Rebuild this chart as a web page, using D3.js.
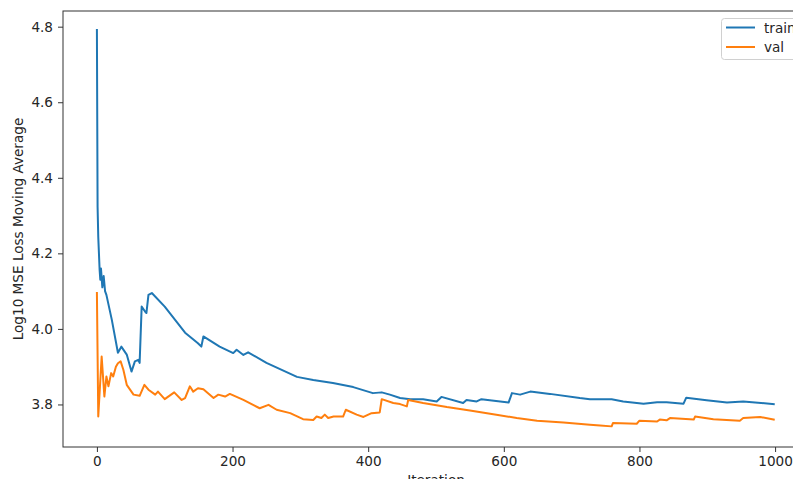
<!DOCTYPE html>
<html>
<head>
<meta charset="utf-8">
<script src="https://cdn.jsdelivr.net/npm/d3@7"></script>
<style>
  html, body { margin: 0; padding: 0; background: #fff; }
  svg { display: block; font-family: "DejaVu Sans", sans-serif; }
</style>
</head>
<body>
<svg id="chart" width="793" height="479"></svg>
<script>
const trainIter = [0,1,2,4,5,6,8,10,12,14,22,31,36,44,51,56,61,63,66,71,73,76,81,100,130,149,154,157,181,201,206,216,223,250,295,319,348,378,407,420,432,447,462,481,501,508,540,545,560,567,607,612,624,639,668,712,727,759,776,806,826,840,865,869,899,929,953,998];
const trainLoss = [4.791,4.323,4.243,4.156,4.13,4.16,4.11,4.14,4.10,4.09,4.024,3.937,3.953,3.932,3.887,3.914,3.918,3.910,4.059,4.046,4.042,4.090,4.095,4.059,3.990,3.962,3.953,3.980,3.953,3.936,3.945,3.931,3.938,3.910,3.873,3.865,3.857,3.846,3.830,3.832,3.826,3.817,3.814,3.814,3.808,3.820,3.804,3.812,3.808,3.814,3.805,3.830,3.826,3.834,3.828,3.817,3.814,3.814,3.808,3.802,3.806,3.806,3.802,3.818,3.811,3.805,3.808,3.801];
const valIter = [0,2,7,11,14,17,21,24,28,31,35,39,44,54,63,70,76,86,90,100,114,125,130,137,142,149,157,172,179,189,196,216,240,253,265,285,304,319,324,331,336,341,349,363,367,383,393,405,417,420,437,447,457,459,481,516,550,589,619,649,688,727,742,759,761,796,800,826,830,840,845,880,882,909,948,953,978,998];
const valLoss = [4.095,3.768,3.927,3.821,3.874,3.848,3.883,3.874,3.90,3.909,3.914,3.892,3.852,3.826,3.823,3.852,3.839,3.826,3.834,3.814,3.832,3.812,3.817,3.848,3.834,3.843,3.840,3.817,3.826,3.821,3.828,3.812,3.790,3.799,3.786,3.777,3.761,3.759,3.768,3.764,3.773,3.764,3.768,3.768,3.786,3.773,3.767,3.777,3.779,3.814,3.804,3.801,3.795,3.812,3.804,3.793,3.784,3.773,3.764,3.757,3.752,3.746,3.744,3.742,3.751,3.749,3.757,3.755,3.760,3.758,3.764,3.760,3.768,3.761,3.757,3.764,3.767,3.760];
const xTicks = [0,200,400,600,800,1000];
const yTicks = [3.8,4.0,4.2,4.4,4.6,4.8];
const seriesNames = ["train","val"];
const seriesColors = ["#1f77b4","#ff7f0e"];

const svg = d3.select("#chart");
const L = 63, R = 809, T = 11, B = 447;
const x = d3.scaleLinear().domain([-50, 1050]).range([L, R]);
const y = d3.scaleLinear().domain([3.6874, 4.8415]).range([B, T]);

const fontSize = "13.6px";
const textColor = "#262626";

// lines
const line = d3.line().x(d => x(d[0])).y(d => y(d[1]));
const series = [
  d3.zip(trainIter, trainLoss),
  d3.zip(valIter, valLoss)
];
series.forEach((s, i) => {
  svg.append("path").datum(s)
    .attr("d", line)
    .attr("fill", "none")
    .attr("stroke", seriesColors[i])
    .attr("stroke-width", 2)
    .attr("stroke-linejoin", "round")
    .attr("stroke-linecap", "square");
});

// axes
const xAxis = svg.append("g").attr("transform", `translate(0,${B})`)
  .call(d3.axisBottom(x).tickValues(xTicks).tickFormat(d3.format("d")).tickSize(5).tickPadding(4.5).tickSizeOuter(0));
const yAxis = svg.append("g").attr("transform", `translate(${L},0)`)
  .call(d3.axisLeft(y).tickValues(yTicks).tickFormat(d3.format(".1f")).tickSize(5).tickPadding(5).tickSizeOuter(0));
[xAxis, yAxis].forEach(a => {
  a.select(".domain").remove();
  a.selectAll(".tick line").attr("stroke", "#333").attr("stroke-width", 1);
  a.selectAll(".tick text").attr("fill", textColor).style("font-size", fontSize).style("font-family", "DejaVu Sans");
});

// spines
svg.append("rect").attr("x", L).attr("y", T).attr("width", R - L).attr("height", B - T)
  .attr("fill", "none").attr("stroke", "#333").attr("stroke-width", 1);

// labels
svg.append("text")
  .attr("transform", `translate(23,${(T + B) / 2}) rotate(-90)`)
  .attr("text-anchor", "middle")
  .attr("fill", textColor)
  .style("font-size", fontSize)
  .text("Log10 MSE Loss Moving Average");
svg.append("text")
  .attr("x", (L + R) / 2).attr("y", 485)
  .attr("text-anchor", "middle")
  .attr("fill", textColor)
  .style("font-size", fontSize)
  .text("Iteration");

// legend
const lg = svg.append("g");
lg.append("rect").attr("x", 721.5).attr("y", 18.5).attr("width", 80).attr("height", 41)
  .attr("rx", 3).attr("fill", "#fff").attr("fill-opacity", 0.8)
  .attr("stroke", "#d0d0d0").attr("stroke-width", 1);
seriesNames.forEach((n, i) => {
  const yy = 27.5 + i * 19.5;
  lg.append("line").attr("x1", 726).attr("x2", 755).attr("y1", yy).attr("y2", yy)
    .attr("stroke", seriesColors[i]).attr("stroke-width", 2);
  lg.append("text").attr("x", 764).attr("y", yy + 5)
    .attr("fill", textColor).style("font-size", fontSize).text(n);
});
</script>
</body>
</html>
